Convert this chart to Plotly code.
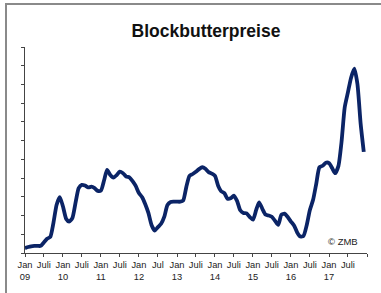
import plotly.graph_objects as go
import pandas as pd

# Monthly Blockbutter prices (EUR/kg, estimated), Jan 2009 - Dec 2017
prices = [
    2.13, 2.16, 2.18, 2.19, 2.19, 2.19, 2.28, 2.38, 2.43, 2.80, 3.29, 3.49,   # 2009
    3.24, 2.91, 2.84, 2.93, 3.33, 3.73, 3.82, 3.80, 3.75, 3.77, 3.73, 3.66,   # 2010
    3.67, 3.95, 4.22, 4.08, 4.01, 4.08, 4.17, 4.13, 4.04, 4.02, 3.92, 3.79,   # 2011
    3.60, 3.49, 3.31, 3.07, 2.75, 2.60, 2.69, 2.78, 2.97, 3.28, 3.36, 3.37,   # 2012
    3.37, 3.37, 3.40, 3.77, 4.06, 4.11, 4.17, 4.24, 4.29, 4.25, 4.16, 4.12,   # 2013
    4.06, 3.79, 3.65, 3.60, 3.45, 3.46, 3.53, 3.39, 3.14, 3.07, 3.06, 2.96,   # 2014
    2.89, 3.15, 3.35, 3.18, 3.03, 3.00, 2.97, 2.86, 2.75, 3.02, 3.05, 2.96,   # 2015
    2.84, 2.73, 2.55, 2.44, 2.46, 2.75, 3.15, 3.42, 3.86, 4.29, 4.33, 4.41,   # 2016
    4.40, 4.26, 4.13, 4.32, 4.96, 5.89, 6.28, 6.68, 6.92, 6.51, 5.45, 4.70,   # 2017
]
months = pd.date_range("2009-01-01", periods=len(prices), freq="MS")

tick_dates = pd.date_range("2009-01-01", "2018-01-01", freq="6MS")
tick_labels = [
    "Jan<br>09", "Juli", "Jan<br>10", "Juli", "Jan<br>11", "Juli",
    "Jan<br>12", "Jul", "Jan<br>13", "Juli", "Jan<br>14", "Juli",
    "Jan<br>15", "Juli", "Jan<br>16", "Juli", "Jan<br>17", "Juli", "",
]
y_ticks = [2.0 + 0.5 * i for i in range(12)]

title_text = "Blockbutterpreise"
source_text = "© ZMB"

fig = go.Figure()
fig.add_trace(go.Scatter(
    x=months, y=prices, mode="lines",
    line=dict(color="#0b2466", width=3.8, shape="spline", smoothing=0.6),
    hoverinfo="skip", showlegend=False,
))

L, R, T, B = 25, 14, 47, 40
W, H = 381, 293
pw, ph = W - L - R, H - T - B

def px(xp):
    return (xp - L) / pw

def py(yp):
    return (H - B - yp) / ph

fig.update_layout(
    width=W, height=H,
    margin=dict(l=L, r=R, t=T, b=B, autoexpand=False),
    paper_bgcolor="white", plot_bgcolor="white",
    font=dict(family="Liberation Sans, Arial, sans-serif", size=9, color="#222"),
    title=dict(text="<b>" + title_text + "</b>", x=(206) / W, xanchor="center",
               y=1 - 31 / H, yanchor="middle",
               font=dict(size=17.5, color="#111", family="Liberation Sans, Arial, sans-serif")),
    xaxis=dict(
        range=["2009-01-01", "2018-01-01"],
        tickmode="array", tickvals=tick_dates, ticktext=tick_labels,
        ticks="outside", ticklen=3, tickcolor="#444", tickwidth=1,
        showline=True, linecolor="#444", linewidth=1,
        showgrid=False, zeroline=False, automargin=False,
        tickfont=dict(size=9.3, color="#222"),
    ),
    yaxis=dict(
        range=[2.0, 7.5],
        tickmode="array", tickvals=y_ticks, showticklabels=False,
        ticks="outside", ticklen=3, tickcolor="#444", tickwidth=1,
        showline=True, linecolor="#444", linewidth=1,
        showgrid=False, zeroline=False, automargin=False,
    ),
    shapes=[dict(
        type="rect", xref="paper", yref="paper",
        x0=px(6), x1=px(384), y0=py(296), y1=py(4),
        line=dict(color="#8a8a8a", width=2), fillcolor="rgba(0,0,0,0)", layer="below",
    )],
    annotations=[dict(
        text=source_text, xref="paper", yref="paper",
        x=px(343), y=py(241), xanchor="center", yanchor="middle",
        showarrow=False, font=dict(size=9.5, color="#222"),
    )],
)

fig.write_html(
    "out.html",
    config={"displayModeBar": False, "staticPlot": True},
    post_script="document.body.style.margin='0px';document.body.style.padding='0px';",
)
